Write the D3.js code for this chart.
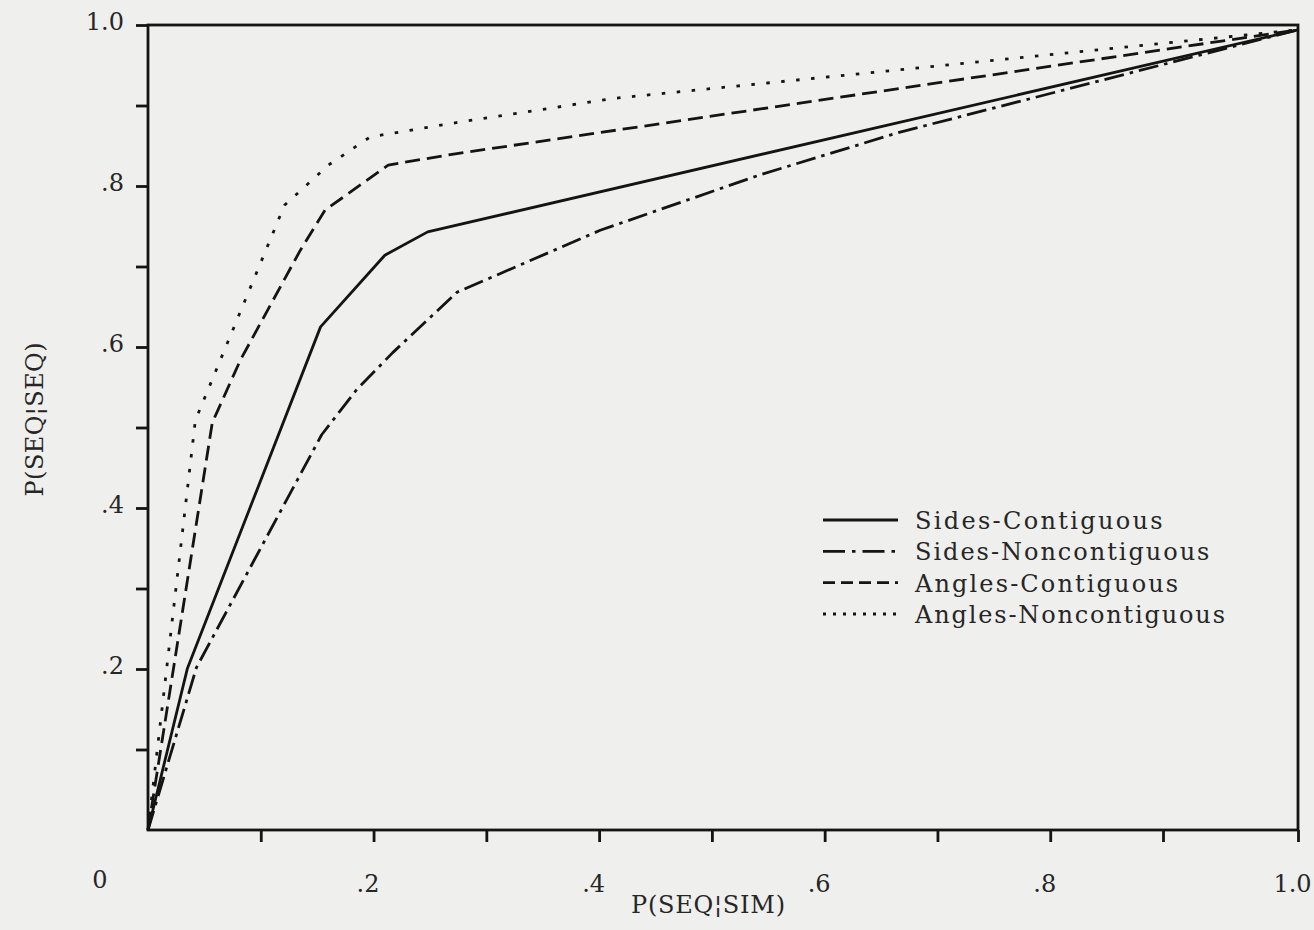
<!DOCTYPE html>
<html>
<head>
<meta charset="utf-8">
<script src="https://cdn.jsdelivr.net/npm/d3@7"></script>
<style>
  html, body { margin: 0; padding: 0; background: #efefed; }
  svg { display: block; }
  text { font-family: "DejaVu Serif", serif; fill: #262626; }
</style>
</head>
<body>
<svg id="chart" width="1314" height="930"></svg>
<script>
// ---- data ----
const xTickValues = [0.1, 0.2, 0.3, 0.4, 0.5, 0.6, 0.7, 0.8, 0.9, 1.0];
const yTickValues = [0.1, 0.2, 0.3, 0.4, 0.5, 0.6, 0.7, 0.8, 0.9, 1.0];
const labelledTicks = [0.2, 0.4, 0.6, 0.8, 1.0];
const originLabel = "0";
const xTitle = "P(SEQ\u00A6SIM)";
const yTitle = "P(SEQ\u00A6SEQ)";

const seriesNames = ["Sides-Contiguous", "Sides-Noncontiguous", "Angles-Contiguous", "Angles-Noncontiguous"];

const sidesContiguous = [[0,0],[0.035,0.201],[0.153,0.625],[0.210,0.714],[0.248,0.743],[1.0,0.994]];
const sidesNoncontiguous = [[0,0],[0.043,0.202],[0.154,0.491],[0.185,0.547],[0.217,0.593],[0.274,0.668],[0.401,0.745],[0.543,0.814],[0.667,0.867],[1.0,0.994]];
const anglesContiguous = [[0,0],[0.057,0.506],[0.082,0.584],[0.135,0.720],[0.157,0.770],[0.213,0.826],[0.268,0.839],[1.0,0.994]];
const anglesNoncontiguous = [[0,0],[0.042,0.509],[0.121,0.776],[0.160,0.826],[0.197,0.861],[0.279,0.880],[0.414,0.909],[1.0,0.994]];

const seriesData = [sidesContiguous, sidesNoncontiguous, anglesContiguous, anglesNoncontiguous];

// ---- styles ----
const ink = "#141414";
const dashes = [null, "20,6,3.5,6", "15,7", "3.5,11.5"];
const legendDashes = [null, "22,7,3.5,7", "12,6", "3,7"];

const svg = d3.select("#chart");

// scales (the hand-drawn x axis is slightly stretched in its last interval)
const x = d3.scaleLinear().domain([0, 0.9, 1]).range([148, 1163, 1298]);
const y = d3.scaleLinear().domain([0, 1]).range([830, 25]);

const fmt = d => (d === 1 ? "1.0" : d3.format(".1f")(d).replace(/^0/, ""));

// ---- frame ----
svg.append("rect")
  .attr("x", x(0)).attr("y", y(1))
  .attr("width", x(1) - x(0)).attr("height", y(0) - y(1))
  .attr("fill", "none").attr("stroke", ink).attr("stroke-width", 2.8);

// ---- axes ----
const xAxis = d3.axisBottom(x)
  .tickValues(xTickValues)
  .tickSize(12)
  .tickPadding(33)
  .tickFormat(d => labelledTicks.some(v => Math.abs(v - d) < 1e-9) ? fmt(d) : "");

const gx = svg.append("g").attr("transform", `translate(0,${y(0)})`).call(xAxis);
gx.select(".domain").remove();
gx.selectAll(".tick line").attr("stroke", ink).attr("stroke-width", 2.8);
gx.selectAll(".tick text")
  .attr("font-size", 24).attr("fill", "#262626")
  .attr("font-family", "DejaVu Serif").attr("dx", -6);

const yAxis = d3.axisLeft(y)
  .tickValues(yTickValues)
  .tickSize(12)
  .tickPadding(12)
  .tickFormat(d => labelledTicks.some(v => Math.abs(v - d) < 1e-9) ? fmt(d) : "");

const gy = svg.append("g").attr("transform", `translate(${x(0)},0)`).call(yAxis);
gy.select(".domain").remove();
gy.selectAll(".tick line").attr("stroke", ink).attr("stroke-width", 2.8);
gy.selectAll(".tick text")
  .attr("font-size", 24).attr("fill", "#262626")
  .attr("font-family", "DejaVu Serif").attr("dy", "0.2em");

// origin label
svg.append("text")
  .attr("x", x(0) - 48).attr("y", y(0) + 58)
  .attr("text-anchor", "middle").attr("font-size", 24)
  .text(originLabel);

// axis titles
svg.append("text")
  .attr("x", 708).attr("y", y(0) + 83)
  .attr("text-anchor", "middle").attr("font-size", 24)
  .attr("textLength", xTitle.length * 15.4).attr("lengthAdjust", "spacing")
  .text(xTitle);

svg.append("text")
  .attr("transform", `translate(43,${y(0.51)}) rotate(-90)`)
  .attr("text-anchor", "middle").attr("font-size", 24)
  .attr("textLength", yTitle.length * 15.4).attr("lengthAdjust", "spacing")
  .text(yTitle);

// ---- curves ----
const line = d3.line().x(d => x(d[0])).y(d => y(d[1]));

svg.append("g").selectAll("path")
  .data(seriesData)
  .join("path")
  .attr("d", line)
  .attr("fill", "none")
  .attr("stroke", ink)
  .attr("stroke-width", 2.8)
  .attr("stroke-linejoin", "round")
  .attr("stroke-dasharray", (d, i) => dashes[i]);

// ---- legend ----
const legendRows = d3.range(seriesNames.length);
const legY = d3.scalePoint().domain(legendRows).range([520, 614]);
const leg = svg.append("g");

leg.selectAll("line")
  .data(legendRows)
  .join("line")
  .attr("x1", 823).attr("x2", 898)
  .attr("y1", i => legY(i)).attr("y2", i => legY(i))
  .attr("stroke", ink).attr("stroke-width", 2.8)
  .attr("stroke-dasharray", i => legendDashes[i]);

leg.selectAll("text")
  .data(legendRows)
  .join("text")
  .attr("x", 915)
  .attr("y", i => legY(i) + 9)
  .attr("font-size", 24)
  .attr("textLength", i => seriesNames[i].length * 15.6 - 2)
  .attr("lengthAdjust", "spacing")
  .text(i => seriesNames[i]);
</script>
</body>
</html>
